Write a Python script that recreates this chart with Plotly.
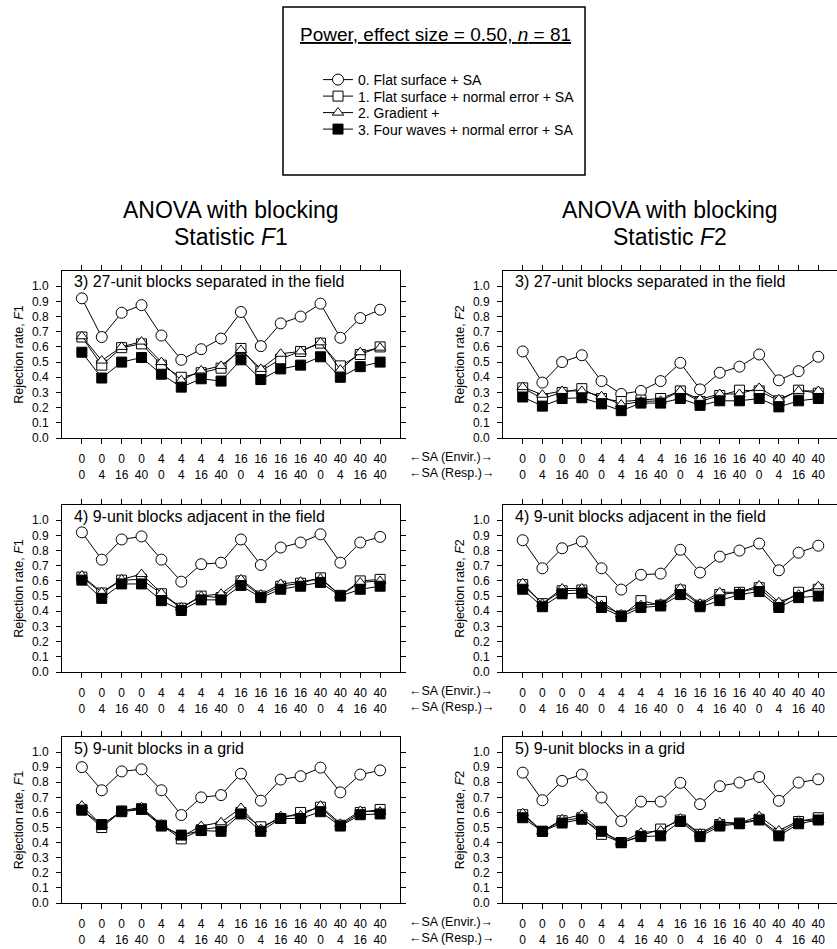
import plotly.graph_objects as go

# ---------------- data ----------------
envir_sa = [0, 0, 0, 0, 4, 4, 4, 4, 16, 16, 16, 16, 40, 40, 40, 40]
resp_sa = [0, 4, 16, 40, 0, 4, 16, 40, 0, 4, 16, 40, 0, 4, 16, 40]

series_names = [
    "0. Flat surface + SA",
    "1. Flat surface + normal error + SA",
    "2. Gradient +",
    "3. Four waves + normal error + SA",
]
panel_titles = [
    "3) 27-unit blocks separated in the field",
    "4) 9-unit blocks adjacent in the field",
    "5) 9-unit blocks in a grid",
]
stat_titles = ["<i>F</i>1", "<i>F</i>2"]

# Panel 3, statistic F1
p3_f1_s0 = [0.92, 0.665, 0.825, 0.875, 0.675, 0.515, 0.585, 0.655, 0.83, 0.605, 0.755, 0.80, 0.885, 0.66, 0.79, 0.845]
p3_f1_s1 = [0.665, 0.48, 0.595, 0.62, 0.48, 0.40, 0.43, 0.46, 0.59, 0.44, 0.52, 0.57, 0.625, 0.475, 0.55, 0.60]
p3_f1_s2 = [0.67, 0.51, 0.60, 0.635, 0.50, 0.38, 0.445, 0.475, 0.58, 0.455, 0.555, 0.57, 0.63, 0.45, 0.565, 0.595]
p3_f1_s3 = [0.565, 0.395, 0.50, 0.53, 0.42, 0.335, 0.39, 0.375, 0.515, 0.385, 0.455, 0.48, 0.535, 0.40, 0.47, 0.50]
# Panel 3, statistic F2
p3_f2_s0 = [0.57, 0.365, 0.50, 0.545, 0.375, 0.29, 0.31, 0.375, 0.495, 0.32, 0.43, 0.47, 0.55, 0.38, 0.44, 0.535]
p3_f2_s1 = [0.33, 0.26, 0.30, 0.325, 0.26, 0.24, 0.25, 0.26, 0.31, 0.24, 0.28, 0.315, 0.31, 0.245, 0.315, 0.295]
p3_f2_s2 = [0.335, 0.285, 0.31, 0.31, 0.275, 0.22, 0.24, 0.245, 0.31, 0.255, 0.29, 0.29, 0.33, 0.255, 0.31, 0.31]
p3_f2_s3 = [0.27, 0.21, 0.26, 0.265, 0.225, 0.18, 0.23, 0.23, 0.26, 0.215, 0.245, 0.245, 0.26, 0.205, 0.245, 0.26]
# Panel 4, statistic F1
p4_f1_s0 = [0.92, 0.74, 0.873, 0.893, 0.74, 0.595, 0.71, 0.72, 0.873, 0.705, 0.82, 0.853, 0.907, 0.72, 0.853, 0.89]
p4_f1_s1 = [0.625, 0.52, 0.605, 0.61, 0.515, 0.42, 0.50, 0.49, 0.60, 0.50, 0.565, 0.585, 0.62, 0.505, 0.60, 0.61]
p4_f1_s2 = [0.635, 0.525, 0.61, 0.645, 0.52, 0.425, 0.50, 0.515, 0.61, 0.51, 0.58, 0.595, 0.615, 0.505, 0.59, 0.60]
p4_f1_s3 = [0.605, 0.485, 0.58, 0.58, 0.47, 0.405, 0.475, 0.475, 0.57, 0.49, 0.545, 0.565, 0.59, 0.50, 0.545, 0.565]
# Panel 4, statistic F2
p4_f2_s0 = [0.868, 0.683, 0.815, 0.86, 0.683, 0.543, 0.64, 0.648, 0.805, 0.655, 0.76, 0.80, 0.846, 0.67, 0.786, 0.832]
p4_f2_s1 = [0.575, 0.45, 0.535, 0.54, 0.465, 0.37, 0.47, 0.44, 0.54, 0.44, 0.51, 0.525, 0.555, 0.44, 0.525, 0.545]
p4_f2_s2 = [0.585, 0.45, 0.55, 0.55, 0.44, 0.38, 0.44, 0.45, 0.55, 0.45, 0.525, 0.525, 0.57, 0.46, 0.51, 0.565]
p4_f2_s3 = [0.545, 0.43, 0.515, 0.52, 0.425, 0.365, 0.425, 0.435, 0.51, 0.43, 0.47, 0.51, 0.53, 0.425, 0.49, 0.50]
# Panel 5, statistic F1
p5_f1_s0 = [0.90, 0.747, 0.872, 0.886, 0.747, 0.583, 0.70, 0.715, 0.857, 0.678, 0.818, 0.84, 0.897, 0.733, 0.851, 0.879]
p5_f1_s1 = [0.62, 0.50, 0.61, 0.625, 0.515, 0.425, 0.485, 0.505, 0.60, 0.505, 0.56, 0.60, 0.635, 0.515, 0.60, 0.62]
p5_f1_s2 = [0.645, 0.515, 0.61, 0.635, 0.52, 0.44, 0.51, 0.535, 0.63, 0.49, 0.575, 0.58, 0.645, 0.525, 0.61, 0.605]
p5_f1_s3 = [0.615, 0.52, 0.605, 0.62, 0.51, 0.45, 0.48, 0.475, 0.59, 0.475, 0.56, 0.56, 0.605, 0.51, 0.585, 0.59]
# Panel 5, statistic F2
p5_f2_s0 = [0.864, 0.681, 0.809, 0.851, 0.699, 0.543, 0.672, 0.672, 0.796, 0.655, 0.774, 0.798, 0.835, 0.677, 0.798, 0.82]
p5_f2_s1 = [0.585, 0.475, 0.545, 0.565, 0.455, 0.40, 0.445, 0.49, 0.55, 0.455, 0.52, 0.53, 0.555, 0.46, 0.54, 0.565]
p5_f2_s2 = [0.595, 0.475, 0.555, 0.585, 0.475, 0.405, 0.465, 0.48, 0.56, 0.46, 0.535, 0.53, 0.575, 0.48, 0.545, 0.55]
p5_f2_s3 = [0.565, 0.475, 0.53, 0.555, 0.475, 0.40, 0.44, 0.445, 0.54, 0.44, 0.51, 0.525, 0.55, 0.445, 0.525, 0.55]

panels = [
    [[p3_f1_s0, p3_f1_s1, p3_f1_s2, p3_f1_s3], [p3_f2_s0, p3_f2_s1, p3_f2_s2, p3_f2_s3]],
    [[p4_f1_s0, p4_f1_s1, p4_f1_s2, p4_f1_s3], [p4_f2_s0, p4_f2_s1, p4_f2_s2, p4_f2_s3]],
    [[p5_f1_s0, p5_f1_s1, p5_f1_s2, p5_f1_s3], [p5_f2_s0, p5_f2_s1, p5_f2_s2, p5_f2_s3]],
]

# ---------------- styling / layout ----------------
W, H = 837, 949
FONT = "Liberation Sans, Arial, Helvetica, sans-serif"


def px(x):
    return x / W


def py(y):
    return 1 - y / H


marker_styles = [
    dict(symbol="circle", size=11, color="white", line=dict(color="black", width=1)),
    dict(symbol="square", size=10, color="white", line=dict(color="black", width=1)),
    dict(symbol="triangle-up", size=10, color="white", line=dict(color="black", width=1)),
    dict(symbol="square", size=10, color="black", line=dict(color="black", width=1)),
]
legend_ids = ["legend", "legend2", "legend3", "legend4"]
legend_rows_px = [80, 96.5, 113, 129.5]

col_px = [(62, 400), (503, 837)]
col_range = [[-1, 16], [-1, 15.95]]
row_px = [(271, 438), (505, 672), (737, 903)]

xpos = list(range(len(envir_sa)))
ticktext = [f"{e}<br>{r}" for e, r in zip(envir_sa, resp_sa)]

fig = go.Figure()
layout = dict(
    width=W, height=H,
    margin=dict(l=0, r=0, t=0, b=0),
    paper_bgcolor="white", plot_bgcolor="white",
    font=dict(family=FONT, color="black", size=12),
    showlegend=True,
)
annotations = []

for r in range(3):
    for c in range(2):
        idx = r * 2 + c + 1
        xname = "x" if idx == 1 else f"x{idx}"
        yname = "y" if idx == 1 else f"y{idx}"
        for s in range(4):
            fig.add_trace(go.Scatter(
                x=xpos, y=panels[r][c][s],
                xaxis=xname, yaxis=yname,
                mode="lines+markers",
                name=series_names[s],
                line=dict(color="black", width=1),
                marker=marker_styles[s],
                showlegend=(idx == 1),
                legend=legend_ids[s],
            ))
        x0, x1 = col_px[c]
        y0, y1 = row_px[r]
        axis_common = dict(
            showline=True, linecolor="black", linewidth=1,
            mirror="ticks", ticks="outside", ticklen=5, tickwidth=1,
            tickcolor="black", showgrid=False, zeroline=False,
            automargin=False, fixedrange=True,
        )
        layout["xaxis" if idx == 1 else f"xaxis{idx}"] = dict(
            axis_common,
            domain=[px(x0), min(1.0, px(x1))],
            anchor=yname, range=col_range[c],
            tickmode="array", tickvals=xpos, ticktext=ticktext,
            tickfont=dict(size=12), ticklabelstandoff=5,
        )
        layout["yaxis" if idx == 1 else f"yaxis{idx}"] = dict(
            axis_common,
            domain=[py(y1), py(y0)],
            anchor=xname, range=[0, 1.1],
            tickmode="array",
            tickvals=[i / 10 for i in range(11)],
            ticktext=[f"{i / 10:.1f}" for i in range(11)],
            tickfont=dict(size=12), ticklabelstandoff=5,
            title=dict(text=f"Rejection rate, {stat_titles[c]}", font=dict(size=12.5), standoff=5),
        )
        # panel label
        annotations.append(dict(
            text=panel_titles[r], xref="paper", yref="paper",
            x=px(x0 + 10), y=py(y0 + 11), xanchor="left", yanchor="middle",
            showarrow=False, font=dict(size=16),
        ))
    # SA labels between the columns
    ybase = row_px[r][1]
    annotations.append(dict(text="\u2190SA (Envir.)\u2192", xref="paper", yref="paper",
                            x=px(407), y=py(ybase + 19), xanchor="left", yanchor="middle",
                            showarrow=False, font=dict(size=12.5)))
    annotations.append(dict(text="\u2190SA (Resp.)\u2192", xref="paper", yref="paper",
                            x=px(407), y=py(ybase + 35), xanchor="left", yanchor="middle",
                            showarrow=False, font=dict(size=12.5)))

# column titles
for c in range(2):
    cx = (col_px[c][0] + min(col_px[c][1], 838)) / 2
    annotations.append(dict(text="ANOVA with blocking", xref="paper", yref="paper",
                            x=px(cx), y=py(210), xanchor="center", yanchor="middle",
                            showarrow=False, font=dict(size=23)))
    annotations.append(dict(text=f"Statistic {stat_titles[c]}", xref="paper", yref="paper",
                            x=px(cx), y=py(237), xanchor="center", yanchor="middle",
                            showarrow=False, font=dict(size=23)))

# legend box title
annotations.append(dict(text="<u>Power, effect size = 0.50, <i>n</i> = 81</u>", xref="paper", yref="paper",
                        x=px(436), y=py(35), xanchor="center", yanchor="middle",
                        showarrow=False, font=dict(size=19)))

layout["annotations"] = annotations
layout["shapes"] = [dict(type="rect", xref="paper", yref="paper",
                         x0=px(283), x1=px(585), y0=py(7), y1=py(175),
                         line=dict(color="black", width=1.5), fillcolor="rgba(0,0,0,0)")]
for lid, ly in zip(legend_ids, legend_rows_px):
    layout[lid] = dict(x=px(318), y=py(ly), xanchor="left", yanchor="middle",
                       bgcolor="rgba(0,0,0,0)", borderwidth=0,
                       font=dict(size=14), tracegroupgap=0, itemwidth=30)

fig.update_layout(**layout)
fig.write_html("out.html", config={"displayModeBar": False})
